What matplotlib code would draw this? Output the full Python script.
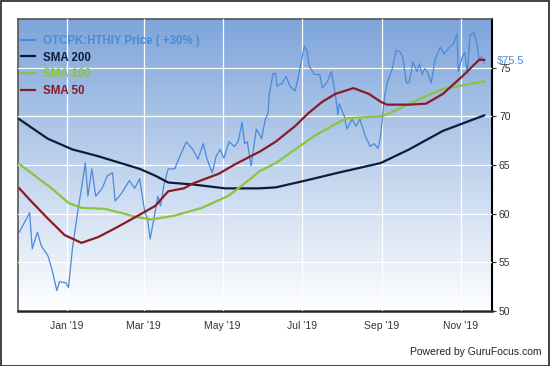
import numpy as np
import pandas as pd
import matplotlib
matplotlib.use("Agg")
import matplotlib.pyplot as plt
import matplotlib.dates as mdates
from matplotlib.colors import LinearSegmentedColormap

plt.rcParams['font.family'] = ['Liberation Sans', 'DejaVu Sans']

# price line
price_dates = ['2018-11-25', '2018-12-03', '2018-12-05', '2018-12-09', '2018-12-12', '2018-12-17',
               '2018-12-20', '2018-12-24', '2018-12-26', '2018-12-31', '2019-01-02', '2019-01-05',
               '2019-01-09', '2019-01-12', '2019-01-15', '2019-01-17', '2019-01-20', '2019-01-23',
               '2019-01-28', '2019-02-01', '2019-02-05', '2019-02-07', '2019-02-12', '2019-02-18',
               '2019-02-22', '2019-02-26', '2019-02-27', '2019-03-02', '2019-03-04', '2019-03-06',
               '2019-03-09', '2019-03-12', '2019-03-14', '2019-03-17', '2019-03-20', '2019-03-25',
               '2019-03-29', '2019-04-03', '2019-04-06', '2019-04-08', '2019-04-12', '2019-04-16',
               '2019-04-19', '2019-04-23', '2019-04-26', '2019-04-29', '2019-05-02', '2019-05-06',
               '2019-05-10', '2019-05-13', '2019-05-16', '2019-05-18', '2019-05-20', '2019-05-23',
               '2019-05-27', '2019-05-30', '2019-05-31', '2019-06-03', '2019-06-05', '2019-06-06',
               '2019-06-09', '2019-06-11', '2019-06-12', '2019-06-16', '2019-06-19', '2019-06-22',
               '2019-06-26', '2019-06-28', '2019-07-01', '2019-07-03', '2019-07-05', '2019-07-07',
               '2019-07-11', '2019-07-15', '2019-07-17', '2019-07-21', '2019-07-24', '2019-07-27',
               '2019-07-29', '2019-07-30', '2019-08-03', '2019-08-05', '2019-08-09', '2019-08-12',
               '2019-08-15', '2019-08-19', '2019-08-23', '2019-08-26', '2019-08-29', '2019-08-31',
               '2019-09-03', '2019-09-05', '2019-09-09', '2019-09-12', '2019-09-15', '2019-09-17',
               '2019-09-20', '2019-09-22', '2019-09-25', '2019-09-28', '2019-09-30', '2019-10-02',
               '2019-10-04', '2019-10-06', '2019-10-09', '2019-10-12', '2019-10-16', '2019-10-19',
               '2019-10-23', '2019-10-26', '2019-10-29', '2019-10-30', '2019-11-02', '2019-11-04',
               '2019-11-06', '2019-11-08', '2019-11-11', '2019-11-13', '2019-11-15', '2019-11-17',
               '2019-11-19']
price = [58.1, 60.1, 56.4, 58.1, 56.7, 55.7,
         54.4, 52.1, 53.0, 52.9, 52.4, 56.4,
         60.1, 62.6, 65.2, 61.8, 64.6, 61.8,
         62.6, 63.9, 64.2, 61.3, 62.1, 63.4,
         62.6, 63.6, 62.6, 60.1, 59.5, 57.4,
         59.5, 61.8, 60.8, 63.2, 64.6, 64.6,
         65.9, 67.4, 66.9, 66.6, 65.6, 67.2,
         65.6, 64.2, 65.9, 66.6, 65.7, 67.4,
         66.9, 67.4, 69.4, 67.2, 67.4, 64.9,
         68.7, 68.0, 67.7, 69.7, 70.3, 72.3,
         74.4, 74.4, 73.1, 73.4, 74.1, 73.1,
         72.6, 73.8, 75.8, 77.2, 76.8, 75.1,
         74.3, 74.3, 72.9, 73.6, 74.6, 72.3,
         70.2, 71.3, 70.0, 68.7, 69.7, 69.0,
         69.7, 68.0, 66.9, 67.2, 66.7, 68.0,
         72.0, 73.4, 74.9, 76.8, 76.6, 76.1,
         73.4, 73.5, 75.6, 74.6, 75.4, 74.3,
         74.9, 74.6, 73.4, 75.8, 77.1, 76.4,
         77.1, 77.4, 78.5, 74.6, 76.1, 76.6,
         74.4, 78.3, 78.6, 77.7, 75.9, 76.1,
         75.5]

sma200_dates = ['2018-11-25', '2018-12-17', '2019-01-05', '2019-01-25', '2019-02-26', '2019-03-10',
                '2019-03-20', '2019-04-08', '2019-05-03', '2019-05-29', '2019-06-11', '2019-07-04',
                '2019-07-29', '2019-08-31', '2019-09-22', '2019-10-18', '2019-11-19']
sma200 = [69.7, 67.7, 66.6, 65.9, 64.6, 63.9,
          63.2, 63.0, 62.6, 62.6, 62.7, 63.4,
          64.2, 65.2, 66.6, 68.5, 70.1]

sma100_dates = ['2018-11-25', '2018-12-07', '2018-12-20', '2019-01-02', '2019-01-12', '2019-01-30',
                '2019-02-14', '2019-02-22', '2019-03-07', '2019-03-25', '2019-04-15', '2019-05-05',
                '2019-05-16', '2019-05-30', '2019-06-11', '2019-06-26', '2019-07-11', '2019-07-27',
                '2019-08-05', '2019-08-31', '2019-09-05', '2019-09-22', '2019-10-18', '2019-11-19']
sma100 = [65.1, 63.9, 62.6, 61.1, 60.6, 60.5,
          60.0, 59.7, 59.4, 59.8, 60.6, 61.8,
          62.9, 64.4, 65.2, 66.6, 68.0, 69.2,
          69.8, 70.0, 70.2, 71.3, 72.8, 73.6]

sma50_dates = ['2018-11-25', '2018-12-04', '2018-12-17', '2018-12-30', '2019-01-12', '2019-01-25',
               '2019-02-07', '2019-02-22', '2019-03-10', '2019-03-20', '2019-04-01', '2019-04-08',
               '2019-04-28', '2019-05-11', '2019-05-30', '2019-06-11', '2019-06-26', '2019-07-06',
               '2019-07-17', '2019-07-27', '2019-08-10', '2019-08-22', '2019-08-31', '2019-09-05',
               '2019-09-22', '2019-10-05', '2019-10-18', '2019-11-02', '2019-11-15', '2019-11-19']
sma50 = [62.6, 61.3, 59.5, 57.8, 57.0, 57.6,
         58.5, 59.6, 60.8, 62.3, 62.6, 63.1,
         64.1, 65.1, 66.4, 67.4, 69.0, 70.3,
         71.5, 72.3, 72.9, 72.3, 71.5, 71.2,
         71.2, 71.3, 72.3, 74.1, 75.8, 75.8]

y_ticks = [50, 55, 60, 65, 70, 75]
last_label = '$75.5'

c_price = '#4a8ad6'
c_200 = '#0e1c3c'
c_100 = '#8cc43c'
c_50 = '#8a1a26'

fig = plt.figure(figsize=(5.5, 3.66), dpi=100)
ax = fig.add_axes([18 / 550, 55 / 366, 474 / 550, 292 / 366])

# blue-to-white background
cmap = LinearSegmentedColormap.from_list('bg', ['#ffffff', '#7ea5da'])
grad = np.linspace(0, 1, 256).reshape(-1, 1)
ax.imshow(grad, cmap=cmap, origin='lower', aspect='auto', extent=[0, 1, 0, 1],
          transform=ax.transAxes, zorder=0)

ax.plot(pd.to_datetime(price_dates), price, color=c_price, lw=0.9, zorder=3,
        label='OTCPK:HTHIY Price ( +30% )')
ax.plot(pd.to_datetime(sma200_dates), sma200, color=c_200, lw=1.6, zorder=3, label='SMA 200')
ax.plot(pd.to_datetime(sma100_dates), sma100, color=c_100, lw=1.6, zorder=3, label='SMA 100')
ax.plot(pd.to_datetime(sma50_dates), sma50, color=c_50, lw=1.6, zorder=3, label='SMA 50')

ax.set_xlim(pd.Timestamp('2018-11-24'), pd.Timestamp('2019-11-25'))
ax.set_ylim(50, 80)

ax.xaxis.set_major_locator(mdates.MonthLocator(bymonth=[1, 3, 5, 7, 9, 11]))
ax.xaxis.set_major_formatter(mdates.DateFormatter("%b '%y"))
ax.yaxis.tick_right()
ax.set_yticks(y_ticks)
ax.tick_params(axis='x', length=0, labelsize=7.5, colors='#333333', pad=7)
ax.tick_params(axis='y', length=3, labelsize=7.5, colors='#333333', pad=2, direction='out')
ax.grid(True, color='white', lw=0.9, zorder=1)
ax.set_axisbelow(False)

for s in ['left', 'top']:
    ax.spines[s].set_color('#555555')
    ax.spines[s].set_linewidth(1.2)
ax.spines['right'].set_color('black')
ax.spines['right'].set_linewidth(1.5)
ax.spines['bottom'].set_color('#222222')
ax.spines['bottom'].set_linewidth(1.8)

leg = ax.legend(loc='upper left', bbox_to_anchor=(-0.008, 0.97), frameon=False,
                handlelength=1.2, handletextpad=0.7, labelspacing=0.42, borderaxespad=0.2,
                prop={'size': 8.3, 'weight': 'bold'})
for txt, line in zip(leg.get_texts(), leg.get_lines()):
    txt.set_color(line.get_color())
for line in leg.get_lines():
    line.set_linewidth(1.6)

ax.text(1.01, price[-1] + 0.2, last_label, transform=ax.get_yaxis_transform(),
        color=c_price, fontsize=8, va='center', ha='left', zorder=5)

fig.text(0.985, 0.025, 'Powered by GuruFocus.com', ha='right', va='bottom',
         fontsize=7.5, color='#222222')

fig.patches.append(plt.Rectangle((0.001, 0.001), 0.997, 0.997, transform=fig.transFigure,
                                 fill=False, edgecolor='#222222', lw=1.2))

fig.savefig('out.png', dpi=100)
